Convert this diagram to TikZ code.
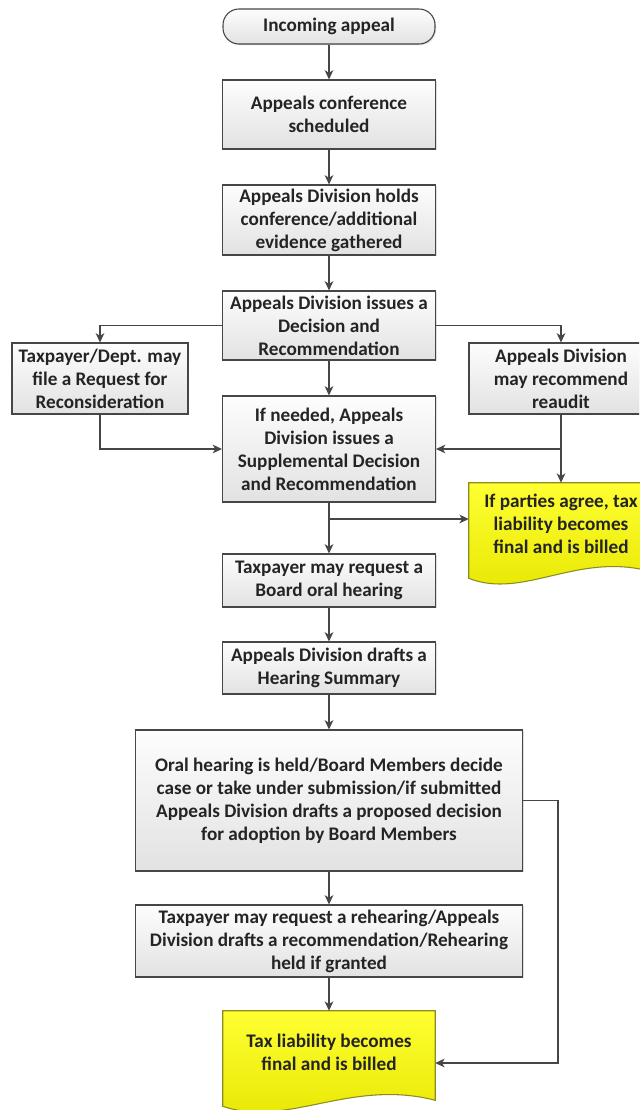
\documentclass[tikz,border=0pt]{standalone}
\usepackage{fontspec}
\setmainfont{Carlito}
\usepackage{tikz}
\usepackage{xcolor}
\usetikzlibrary{arrows.meta,calc}
\usetikzlibrary{positioning,shapes,shadows,backgrounds}
\definecolor{boxline}{RGB}{70,70,70}
\definecolor{boxtop}{RGB}{253,253,253}
\definecolor{boxbottom}{RGB}{226,226,226}
\definecolor{docline}{RGB}{140,140,30}
\definecolor{doctop}{RGB}{255,255,50}
\definecolor{docbottom}{RGB}{230,230,0}
\definecolor{txtcol}{RGB}{36,36,36}
\tikzset{
    %Define style for boxes
    boxsize/.style 2 args={
        minimum width=#1*0.75pt,
        minimum height=#2*0.75pt,
    },
    proc/.style={
        rectangle,
        draw=boxline, line width=0.8pt,
        top color=boxtop, bottom color=boxbottom,
        drop shadow={opacity=0.25, shadow xshift=0.9pt, shadow yshift=-0.9pt},
        align=center,
        inner sep=2pt,
        text=txtcol,
        font=\fontsize{14.4pt}{17.25pt}\selectfont\bfseries,
    },
    start-end/.style={
        proc,
        rounded corners=12pt,
    },
    doc/.style={
        rectangle,
        align=center,
        inner sep=2pt,
        text=txtcol,
        font=\fontsize{14.4pt}{17.25pt}\selectfont\bfseries,
    },
    docshape/.style={
        draw=docline, line width=0.8pt,
        top color=doctop, bottom color=docbottom,
    },
    flow/.style={
        draw=boxline, line width=0.9pt,
        -{Stealth[length=7pt,width=6.5pt,inset=2pt]},
    },
}

\begin{document}
\begin{tikzpicture}[x=0.75pt,y=-0.75pt]
    \useasboundingbox (0,0) rectangle (639,1110);
    \clip (0,0) rectangle (639,1110);

    % main column
    \node[start-end, boxsize={212}{35}] (start) at (329,26.5) {Incoming appeal};
    \node[proc, boxsize={213}{69}] (sched) at (329,114.5) {Appeals conference\\scheduled};
    \node[proc, boxsize={213}{70}] (holds) at (329,220) {Appeals Division holds\\conference/additional\\evidence gathered};
    \node[proc, boxsize={213}{69}] (decision) at (329,325.5) {Appeals Division issues a\\Decision and\\Recommendation};
    \node[proc, boxsize={176}{71}] (recon) at (100,378.5) {Taxpayer/Dept. may\\file a Request for\\Reconsideration};
    \node[proc, boxsize={184}{71}] (reaudit) at (561,378.5) {Appeals Division\\may recommend\\reaudit};
    \node[proc, boxsize={213}{106}] (supp) at (329,449) {If needed, Appeals\\Division issues a\\Supplemental Decision\\and Recommendation};
    \node[doc, boxsize={184}{82}] (agree) at (561,524) {If parties agree, tax\\liability becomes\\final and is billed};
    \node[proc, boxsize={213}{53}] (request) at (329,580.5) {Taxpayer may request a\\Board oral hearing};
    \node[proc, boxsize={213}{52}] (summary) at (329,668) {Appeals Division drafts a\\Hearing Summary};
    \node[proc, boxsize={387}{141}] (oral) at (329,800.5) {Oral hearing is held/Board Members decide\\case or take under submission/if submitted\\Appeals Division drafts a proposed decision\\for adoption by Board Members};
    \node[proc, boxsize={387}{72}] (rehear) at (329,941) {Taxpayer may request a rehearing/Appeals\\Division drafts a recommendation/Rehearing\\held if granted};
    \node[doc, boxsize={212}{82}] (final) at (329,1052) {Tax liability becomes\\final and is billed};

    % wavy document outlines
    \begin{scope}[on background layer]
        \path[docshape] (agree.north west) -- (agree.north east)
            -- ($(agree.south east)+(0,7)$)
            .. controls +(-74,-22) and +(55,22) .. ($(agree.south west)+(0,13)$)
            -- cycle;
        \path[docshape] (final.north west) -- (final.north east)
            -- ($(final.south east)+(0,7)$)
            .. controls +(-85,-22) and +(64,22) .. ($(final.south west)+(0,13)$)
            -- cycle;
    \end{scope}

    \coordinate (split) at (329,519);
    \coordinate (loop) at (558,1063);

    \draw[flow] (start) -- (sched);
    \draw[flow] (sched) -- (holds);
    \draw[flow] (holds) -- (decision);
    \draw[flow] (decision.west) -| (recon.north);
    \draw[flow] (decision.east) -| (reaudit.north);
    \draw[flow] (decision) -- (supp);
    \draw[flow] (recon.south) |- (supp.west);
    \draw[flow] (reaudit.south) |- (supp.east);
    \draw[flow] (reaudit.south) -- (agree.north);
    \draw[flow] (supp) -- (request);
    \draw[flow] (split) -- (split -| agree.west);
    \draw[flow] (request) -- (summary);
    \draw[flow] (summary) -- (oral);
    \draw[flow] (oral) -- (rehear);
    \draw[flow] (rehear) -- (final);
    \draw[flow] (oral.east) -| (loop) -- (loop -| final.east);
\end{tikzpicture}
\end{document}
